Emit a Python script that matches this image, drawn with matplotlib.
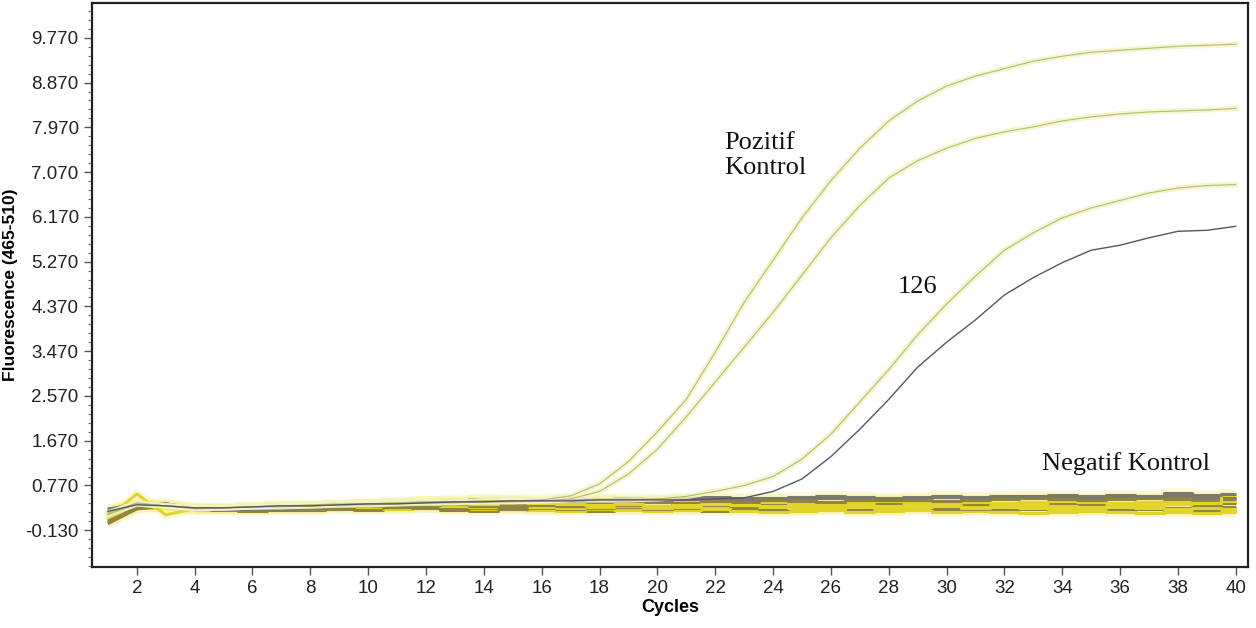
import numpy as np
import matplotlib
matplotlib.use("Agg")
import matplotlib.pyplot as plt
from matplotlib.ticker import FixedLocator

# cycles 1..40
cycles = np.arange(1, 41)

# positive control curves (upper two), sample 126 (yellow) and the grey sample
pos_a = [0.20, 0.42, 0.36, 0.30, 0.32, 0.34, 0.36, 0.36, 0.38, 0.40,
         0.42, 0.44, 0.44, 0.46, 0.46, 0.48, 0.56, 0.80, 1.25, 1.85,
         2.50, 3.45, 4.45, 5.30, 6.15, 6.90, 7.55, 8.10, 8.50, 8.80,
         9.00, 9.15, 9.30, 9.40, 9.48, 9.52, 9.56, 9.60, 9.62, 9.64]
pos_b = [0.18, 0.40, 0.36, 0.32, 0.32, 0.34, 0.34, 0.36, 0.38, 0.38,
         0.40, 0.42, 0.42, 0.44, 0.44, 0.46, 0.50, 0.65, 1.00, 1.50,
         2.15, 2.85, 3.55, 4.25, 5.00, 5.75, 6.40, 6.95, 7.30, 7.55,
         7.75, 7.88, 7.98, 8.10, 8.18, 8.24, 8.28, 8.30, 8.32, 8.35]
s126 = [0.22, 0.40, 0.36, 0.32, 0.32, 0.34, 0.36, 0.38, 0.40, 0.40,
        0.42, 0.44, 0.44, 0.46, 0.46, 0.46, 0.48, 0.48, 0.48, 0.50,
        0.55, 0.65, 0.77, 0.95, 1.30, 1.80, 2.45, 3.10, 3.80, 4.42,
        4.98, 5.50, 5.85, 6.15, 6.35, 6.50, 6.65, 6.75, 6.80, 6.82]
s_grey = [0.25, 0.38, 0.36, 0.32, 0.32, 0.34, 0.36, 0.36, 0.38, 0.40,
          0.40, 0.42, 0.44, 0.44, 0.46, 0.46, 0.46, 0.48, 0.48, 0.48,
          0.48, 0.50, 0.52, 0.65, 0.90, 1.35, 1.90, 2.50, 3.15, 3.65,
          4.10, 4.60, 4.95, 5.25, 5.50, 5.60, 5.75, 5.88, 5.90, 5.98]

# negative samples (flat)
neg_olive_1 = [0.05, 0.30, 0.38, 0.30, 0.30, 0.32, 0.30, 0.32, 0.34, 0.36,
               0.34, 0.38, 0.40, 0.36, 0.34, 0.38, 0.36, 0.40, 0.38, 0.36,
               0.40, 0.38, 0.36, 0.40, 0.42, 0.38, 0.40, 0.42, 0.40, 0.38,
               0.40, 0.42, 0.40, 0.42, 0.40, 0.38, 0.40, 0.42, 0.40, 0.42]
neg_yellow_1 = [0.20, 0.40, 0.36, 0.30, 0.32, 0.36, 0.38, 0.38, 0.40, 0.42,
                0.44, 0.46, 0.44, 0.46, 0.48, 0.46, 0.44, 0.46, 0.42, 0.44,
                0.46, 0.44, 0.42, 0.44, 0.40, 0.42, 0.44, 0.46, 0.44, 0.42,
                0.44, 0.42, 0.44, 0.46, 0.44, 0.42, 0.44, 0.46, 0.44, 0.46]
neg_grey_1 = [0.30, 0.36, 0.40, 0.30, 0.30, 0.30, 0.30, 0.34, 0.36, 0.40,
              0.42, 0.46, 0.48, 0.50, 0.48, 0.50, 0.52, 0.50, 0.52, 0.50,
              0.52, 0.54, 0.50, 0.52, 0.54, 0.56, 0.54, 0.52, 0.54, 0.56,
              0.54, 0.56, 0.56, 0.58, 0.56, 0.58, 0.56, 0.62, 0.58, 0.60]
neg_yellow_2 = [0.12, 0.60, 0.18, 0.30, 0.30, 0.32, 0.34, 0.34, 0.36, 0.38,
                0.40, 0.40, 0.42, 0.40, 0.44, 0.42, 0.40, 0.38, 0.40, 0.36,
                0.38, 0.40, 0.38, 0.36, 0.34, 0.36, 0.38, 0.36, 0.38, 0.36,
                0.34, 0.36, 0.38, 0.36, 0.34, 0.36, 0.38, 0.40, 0.42, 0.58]
neg_olive_2 = [0.00, 0.30, 0.34, 0.28, 0.28, 0.26, 0.28, 0.30, 0.32, 0.28,
               0.30, 0.32, 0.28, 0.26, 0.30, 0.28, 0.30, 0.26, 0.28, 0.30,
               0.28, 0.26, 0.30, 0.28, 0.26, 0.30, 0.28, 0.26, 0.30, 0.28,
               0.26, 0.28, 0.30, 0.28, 0.26, 0.28, 0.30, 0.26, 0.28, 0.26]
neg_yellow_3 = [0.15, 0.38, 0.34, 0.30, 0.32, 0.34, 0.36, 0.34, 0.36, 0.34,
                0.36, 0.38, 0.36, 0.34, 0.36, 0.34, 0.32, 0.34, 0.36, 0.32,
                0.34, 0.32, 0.36, 0.34, 0.32, 0.30, 0.34, 0.32, 0.34, 0.36,
                0.32, 0.34, 0.32, 0.30, 0.32, 0.34, 0.32, 0.30, 0.32, 0.30]
neg_olive_3 = [0.25, 0.40, 0.38, 0.32, 0.30, 0.30, 0.34, 0.36, 0.34, 0.38,
               0.36, 0.40, 0.42, 0.40, 0.38, 0.42, 0.44, 0.42, 0.46, 0.44,
               0.42, 0.46, 0.44, 0.48, 0.46, 0.44, 0.48, 0.50, 0.48, 0.46,
               0.48, 0.50, 0.52, 0.50, 0.48, 0.50, 0.52, 0.50, 0.48, 0.50]
neg_grey_2 = [0.28, 0.42, 0.40, 0.32, 0.30, 0.32, 0.32, 0.34, 0.38, 0.40,
              0.44, 0.42, 0.46, 0.48, 0.46, 0.44, 0.48, 0.50, 0.46, 0.48,
              0.50, 0.48, 0.52, 0.50, 0.48, 0.52, 0.50, 0.48, 0.52, 0.54,
              0.50, 0.52, 0.54, 0.52, 0.50, 0.54, 0.52, 0.56, 0.54, 0.52]
neg_yellow_4 = [0.08, 0.36, 0.32, 0.28, 0.30, 0.30, 0.32, 0.30, 0.34, 0.32,
                0.30, 0.34, 0.32, 0.30, 0.32, 0.28, 0.26, 0.30, 0.28, 0.26,
                0.28, 0.30, 0.26, 0.24, 0.26, 0.28, 0.24, 0.26, 0.28, 0.24,
                0.26, 0.24, 0.22, 0.24, 0.26, 0.24, 0.22, 0.24, 0.22, 0.24]
neg_olive_4 = [0.02, 0.34, 0.36, 0.30, 0.30, 0.28, 0.30, 0.28, 0.30, 0.32,
               0.34, 0.32, 0.30, 0.32, 0.30, 0.32, 0.30, 0.32, 0.34, 0.30,
               0.32, 0.34, 0.32, 0.30, 0.32, 0.34, 0.36, 0.32, 0.34, 0.32,
               0.30, 0.32, 0.34, 0.32, 0.34, 0.36, 0.34, 0.32, 0.34, 0.34]

yticks = [-0.13, 0.77, 1.67, 2.57, 3.47, 4.37, 5.27, 6.17, 7.07, 7.97, 8.87, 9.77]
xticks = list(range(2, 41, 2))

YELLOW = "#e2d42a"
OLIVE = "#8f8444"
GREY = "#7c7a6c"
GLOW = "#f7f1a2"

fig = plt.figure(figsize=(12.56, 6.28), dpi=100)
ax = fig.add_axes([0.0732, 0.0971, 0.9204, 0.8981])

# flat negative traces: first cycles as plain lines, the rest as steps
negs = [(neg_olive_2, OLIVE), (neg_yellow_4, YELLOW), (neg_olive_4, OLIVE),
        (neg_yellow_3, YELLOW), (neg_olive_1, OLIVE), (neg_yellow_1, YELLOW),
        (neg_grey_2, GREY), (neg_olive_3, OLIVE), (neg_yellow_2, YELLOW),
        (neg_grey_1, GREY)]
for lw, alpha, z, use_col in ((7, 0.4, 1, False), (2.2, 1.0, 2, True)):
    for vals, col in negs:
        c = col if use_col else GLOW
        ax.plot(cycles[:4], vals[:4], color=c, lw=lw,
                alpha=alpha, zorder=z, solid_capstyle="butt")
        ax.plot(cycles[3:], vals[3:], drawstyle="steps-mid", color=c, lw=lw,
                alpha=alpha, solid_capstyle="butt", zorder=z)

# amplification curves
for vals in (pos_a, pos_b, s126):
    ax.plot(cycles, vals, color="#f1f4c4", lw=4, alpha=0.8, zorder=3)
    ax.plot(cycles, vals, color="#b9b96e", lw=0.8, zorder=4)
ax.plot(cycles, s_grey, color="#55556a", lw=1.0, zorder=4)

# labels on the plot
ax.text(22.3, 7.4, "Pozitif\nKontrol", family="Liberation Serif", fontsize=19,
        ha="left", va="center", linespacing=1.15, color="#111111")
ax.text(29.0, 4.76, "126", family="Liberation Serif", fontsize=19,
        ha="center", va="center", color="#111111")
ax.text(33.3, 1.22, "Negatif Kontrol", family="Liberation Serif", fontsize=19,
        ha="left", va="center", color="#111111")

ax.set_xlim(0.45, 40.42)
ax.set_ylim(-0.87, 10.47)
ax.xaxis.set_major_locator(FixedLocator(xticks))
ax.set_xticklabels([str(t) for t in xticks])
ax.yaxis.set_major_locator(FixedLocator(yticks))
ax.set_yticklabels(["%.3f" % t for t in yticks])
ax.yaxis.set_minor_locator(FixedLocator(
    [-0.13 + 0.18 * i for i in range(-4, 61) if i % 5 != 0]))

ax.tick_params(axis="both", which="major", direction="out", length=6,
               width=1, color="#555555", labelsize=13.5, labelcolor="#222222",
               labelfontfamily="Liberation Sans")
ax.tick_params(axis="y", which="minor", direction="out", length=3,
               width=0.8, color="#777777")
for s in ax.spines.values():
    s.set_linewidth(1.6)
    s.set_color("#222222")

ax.set_xlabel("Cycles", fontsize=13, fontweight="bold", family="Liberation Sans",
              labelpad=1)
ax.set_ylabel("Fluorescence (465-510)", fontsize=12.5, fontweight="bold",
              family="Liberation Sans")
ax.yaxis.set_label_coords(-0.064, 0.5)

fig.savefig("out.png", dpi=100)
